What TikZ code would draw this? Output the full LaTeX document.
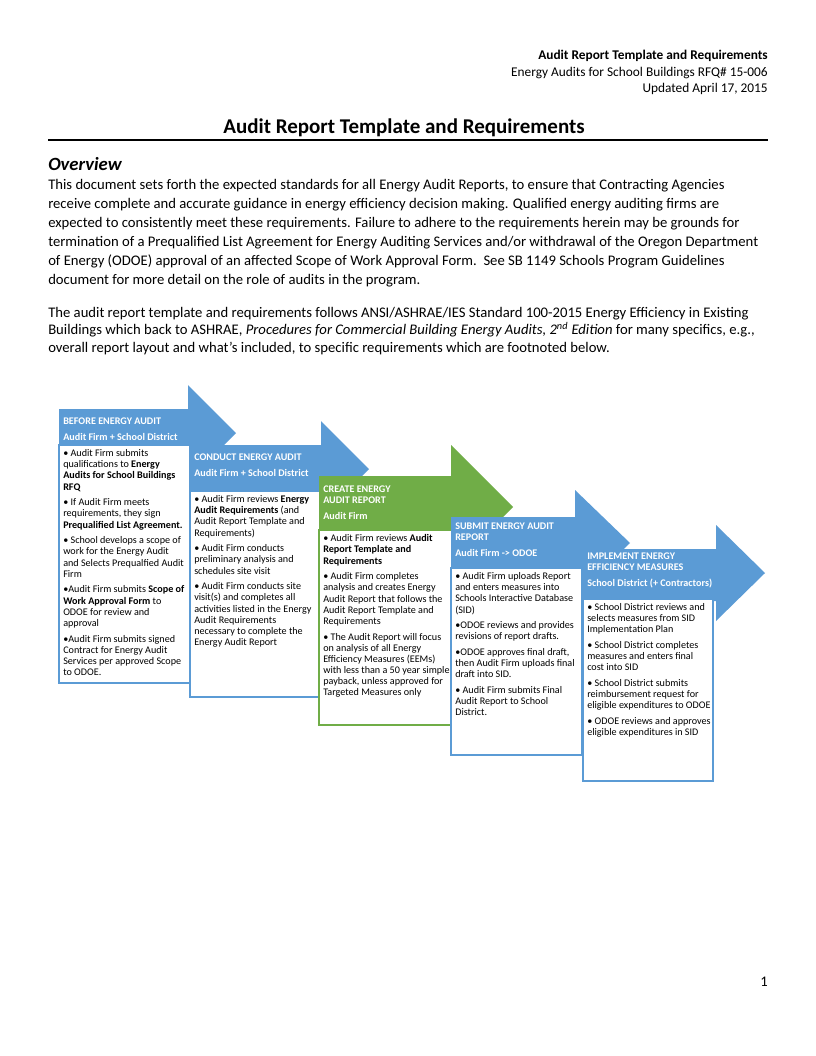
\documentclass[tikz,border=0pt]{standalone}
\usepackage{fontspec}
\setmainfont{Carlito}
\definecolor{stepblue}{HTML}{5B9BD5}
\definecolor{stepgreen}{HTML}{70AD47}
\newcommand{\pgap}{\\[3.6pt]}
\begin{document}
\begin{tikzpicture}[x=0.75pt,y=-0.75pt,
  hdr/.style={font=\fontsize{10}{12}\selectfont, anchor=base east, inner sep=0},
  bodytxt/.style={font=\fontsize{11}{14.25}\selectfont, anchor=north west, align=left, inner sep=0, execute at begin node=\strut},
  boxtxt/.style={font=\fontsize{7.6}{8.3}\selectfont, anchor=north west, align=left, inner sep=0, execute at begin node=\strut},
  bandtxt/.style={font=\fontsize{7.6}{8.3}\selectfont\bfseries, text=white, anchor=north west, align=left, inner sep=0, execute at begin node=\strut},
  boxframe/.style={fill=white, draw=#1, line width=0.8pt},
]
\fill[white] (0,0) rectangle (816,1056);
\useasboundingbox (0,0) rectangle (816,1056);

% page header
\node[hdr] (h1) at (768,59.5) {\bfseries Audit Report Template and Requirements};
\node[hdr] (h2) at (768,76) {Energy Audits for School Buildings RFQ\# 15-006};
\node[hdr] (h3) at (768,92.5) {Updated April 17, 2015};

\node[font=\fontsize{15.75}{19}\selectfont\bfseries, anchor=base, inner sep=0] (title) at (404,133) {Audit Report Template and Requirements};
\draw[line width=0.8pt] (48,140) -- (768,140);

\node[font=\fontsize{14}{17}\selectfont\bfseries\itshape, anchor=base west, inner sep=0] (ov) at (48,170) {Overview};

\node[bodytxt] (p1) at (48,178.7) {This document sets forth the expected standards for all Energy Audit Reports, to ensure that Contracting Agencies\\
receive complete and accurate guidance in energy efficiency decision making. Qualified energy auditing firms are\\
expected to consistently meet these requirements. Failure to adhere to the requirements herein may be grounds for\\
termination of a Prequalified List Agreement for Energy Auditing Services and/or withdrawal of the Oregon Department\\
of Energy (ODOE) approval of an affected Scope of Work Approval Form.\ \ See SB 1149 Schools Program Guidelines\\
document for more detail on the role of audits in the program.};

\node[bodytxt, font=\fontsize{11}{13.1}\selectfont] (p2) at (48,306.8) {The audit report template and requirements follows ANSI/ASHRAE/IES Standard 100-2015 Energy Efficiency in Existing\\
Buildings which back to ASHRAE, \textit{Procedures for Commercial Building Energy Audits, 2\textsuperscript{nd} Edition} for many specifics, e.g.,\\
overall report layout and what’s included, to specific requirements which are footnoted below.};

% ---------- Stage 1 ----------
\fill[stepblue] (59,409) -- (188,409) -- (188,385) -- (236,433) -- (188,481) -- (188,447) -- (59,447) -- cycle;
\draw[boxframe=stepblue] (59,445) rectangle (190,683);
\node[bandtxt] (s1h) at (63,417.5) {BEFORE ENERGY AUDIT\pgap Audit Firm + School District};
\node[boxtxt] (s1t) at (63,449.5) {• Audit Firm submits\\
qualifications to \textbf{Energy}\\
\textbf{Audits for School Buildings}\\
\textbf{RFQ}\pgap
• If Audit Firm meets\\
requirements, they sign\\
\textbf{Prequalified List Agreement.}\pgap
• School develops a scope of\\
work for the Energy Audit\\
and Selects Prequalfied Audit\\
Firm\pgap
•Audit Firm submits \textbf{Scope of}\\
\textbf{Work Approval Form} to\\
ODOE for review and\\
approval\pgap
•Audit Firm submits signed\\
Contract for Energy Audit\\
Services per approved Scope\\
to ODOE.};

% ---------- Stage 2 ----------
\fill[stepblue] (190,445) -- (321,445) -- (321,421) -- (369,469) -- (321,517) -- (321,493) -- (190,493) -- cycle;
\draw[boxframe=stepblue] (190,491) rectangle (320,697);
\node[bandtxt] (s2h) at (194,453.5) {CONDUCT ENERGY AUDIT\pgap Audit Firm + School District};
\node[boxtxt] (s2t) at (194,495.5) {• Audit Firm reviews \textbf{Energy}\\
\textbf{Audit Requirements} (and\\
Audit Report Template and\\
Requirements)\pgap
• Audit Firm conducts\\
preliminary analysis and\\
schedules site visit\pgap
• Audit Firm conducts site\\
visit(s) and completes all\\
activities listed in the Energy\\
Audit Requirements\\
necessary to complete the\\
Energy Audit Report};

% ---------- Stage 3 ----------
\fill[stepgreen] (319,476) -- (451,476) -- (451,445) -- (513,507) -- (451,569) -- (451,532) -- (319,532) -- cycle;
\draw[boxframe=stepgreen] (319,530) rectangle (452,725);
\node[bandtxt] (s3h) at (323,485.5) {CREATE ENERGY\\AUDIT REPORT\pgap Audit Firm};
\node[boxtxt] (s3t) at (323,534.5) {• Audit Firm reviews \textbf{Audit}\\
\textbf{Report Template and}\\
\textbf{Requirements}\pgap
• Audit Firm completes\\
analysis and creates Energy\\
Audit Report that follows the\\
Audit Report Template and\\
Requirements\pgap
• The Audit Report will focus\\
on analysis of all Energy\\
Efficiency Measures (EEMs)\\
with less than a 50 year simple\\
payback, unless approved for\\
Targeted Measures only};

% ---------- Stage 4 ----------
\fill[stepblue] (451,517) -- (575,517) -- (575,490) -- (630,543) -- (575,596) -- (575,570) -- (451,570) -- cycle;
\draw[boxframe=stepblue] (451,568) rectangle (582,755);
\node[bandtxt] (s4h) at (455,522.5) {SUBMIT ENERGY AUDIT\\REPORT\pgap Audit Firm -> ODOE};
\node[boxtxt] (s4t) at (455,572.5) {• Audit Firm uploads Report\\
and enters measures into\\
Schools Interactive Database\\
(SID)\pgap
•ODOE reviews and provides\\
revisions of report drafts.\pgap
•ODOE approves final draft,\\
then Audit Firm uploads final\\
draft into SID.\pgap
• Audit Firm submits Final\\
Audit Report to School\\
District.};

% ---------- Stage 5 ----------
\fill[stepblue] (583,549) -- (716,549) -- (716,525) -- (765,573) -- (716,621) -- (716,601) -- (583,601) -- cycle;
\draw[boxframe=stepblue] (583,599) rectangle (713,781);
\node[bandtxt] (s5h) at (587,552.5) {IMPLEMENT ENERGY\\EFFICIENCY MEASURES\pgap School District (+ Contractors)};
\node[boxtxt] (s5t) at (587,603.5) {• School District reviews and\\
selects measures from SID\\
Implementation Plan\pgap
• School District completes\\
measures and enters final\\
cost into SID\pgap
• School District submits\\
reimbursement request for\\
eligible expenditures to ODOE\pgap
• ODOE reviews and approves\\
eligible expenditures in SID};

\node[font=\fontsize{11}{13}\selectfont, anchor=base east, inner sep=0] (pg) at (768,986) {1};
\end{tikzpicture}
\end{document}
